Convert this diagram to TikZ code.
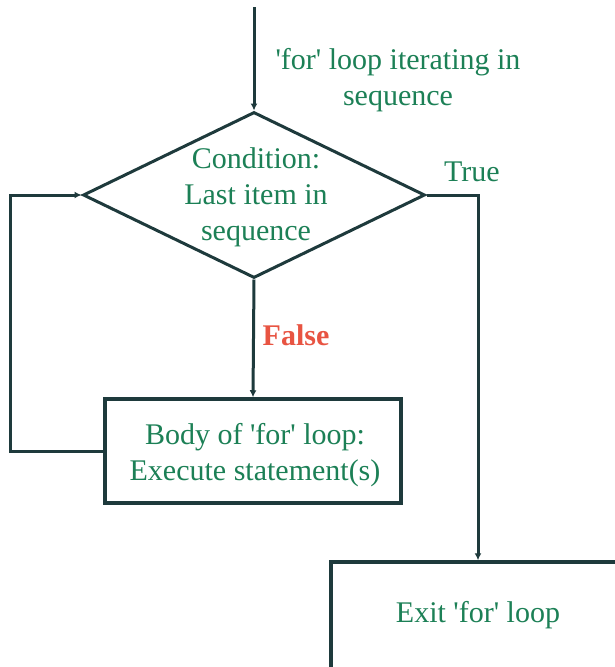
\documentclass[tikz,border=0pt]{standalone}
\usepackage{fontspec}
\setmainfont{Liberation Serif}
\usetikzlibrary{shapes.geometric,arrows.meta}
\definecolor{linecol}{RGB}{30,58,60}
\definecolor{txtgreen}{RGB}{28,128,86}
\definecolor{txtred}{RGB}{232,84,66}
\newcommand{\q}{\textquotesingle}
\begin{document}
\begin{tikzpicture}[x=1pt,y=-1pt,
  conn/.style={draw=linecol,line width=3pt},
  arr/.style={conn,-{Latex[length=7pt,width=7pt]}},
  boxnode/.style={draw=linecol,line width=3.5pt,rectangle,inner sep=0pt},
  lbl/.style={text=txtgreen,font=\fontsize{30}{36}\selectfont,align=center,inner sep=0pt}]
  \useasboundingbox (0,0) rectangle (615,667);
  \fill[white] (0,0) rectangle (615,667);

  % decision diamond and its text
  \node[diamond,draw=linecol,line width=3pt,minimum width=342pt,minimum height=166pt,inner sep=0pt] (cond) at (254,195) {};
  \node[lbl] (condtext) at (256,197) {Condition:\\Last item in\\sequence};

  % loop body
  \node[boxnode,minimum width=296pt,minimum height=104pt] (body) at (253,451) {};
  \node[lbl] (bodytext) at (255,455) {Body of \q for\q{} loop:\\Execute statement(s)};

  % exit box, running off the right and bottom edges
  \node[boxnode,minimum width=294pt,minimum height=118pt] (exit) at (478,621) {};
  \node[lbl] (exittext) at (478,615) {Exit \q for\q{} loop};

  % entry
  \coordinate (start) at (254,7);
  \draw[arr] (start) -- (cond.north);
  \node[lbl] (entrylbl) at (398,80) {\q for\q{} loop iterating in\\sequence};

  % false branch
  \draw[arr] (cond.south) -- (body.north);
  \node[text=txtred,font=\fontsize{30}{36}\selectfont\bfseries,inner sep=0pt] (falselbl) at (296,335) {False};

  % true branch
  \draw[arr] (cond.east) -| (exit.north);
  \node[lbl] (truelbl) at (472,172) {True};

  % loop back
  \draw[arr] (body.west) -- ++(-93,0) |- (cond.west);
\end{tikzpicture}
\end{document}
